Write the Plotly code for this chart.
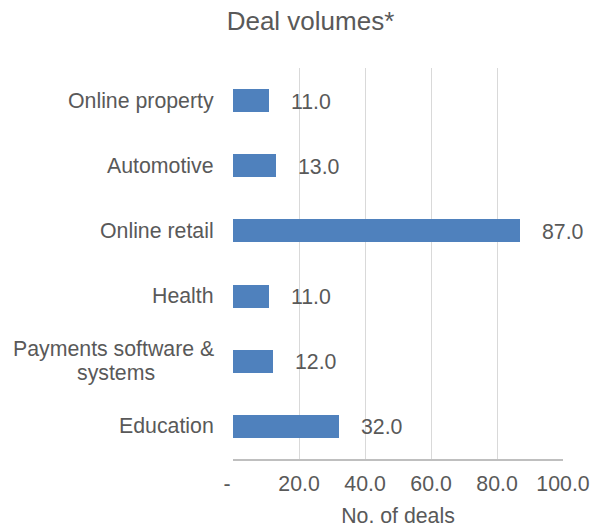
import plotly.graph_objects as go

# Sectors, top to bottom as shown
sectors = [
    "Online property",
    "Automotive",
    "Online retail",
    "Health",
    "Payments software &<br>systems",
    "Education",
]
deals = [11, 13, 87, 11, 12, 32]

x_ticks = [0, 20, 40, 60, 80, 100]
x_tick_text = ["-\u00a0\u00a0", "20.0", "40.0", "60.0", "80.0", "100.0"]

FONT = "Arial, Liberation Sans, sans-serif"
TEXT = "#595959"
BAR = "#4F81BD"
SIZE = 21.3
LINE_GAP = 24  # px between wrapped lines of a category label

fig = go.Figure()
fig.add_trace(
    go.Bar(
        x=deals,
        y=sectors,
        orientation="h",
        width=0.354,
        marker=dict(color=BAR, line=dict(width=0)),
        hoverinfo="x+y",
    )
)

annotations = []
# Value labels just beyond each bar end
for s, v in zip(sectors, deals):
    annotations.append(
        dict(
            x=v, y=s, xref="x", yref="y",
            text=f"{v:.1f}",
            showarrow=False,
            xanchor="left", yanchor="middle",
            xshift=20, yshift=-1,
            font=dict(family=FONT, size=SIZE, color=TEXT),
        )
    )

# Category labels; wrapped ones are set line by line, centred on the widest line
for s in sectors:
    lines = s.split("<br>")
    n = len(lines)
    if n == 1:
        annotations.append(
            dict(
                x=0, y=s, xref="paper", yref="y",
                text=s, showarrow=False,
                xanchor="right", yanchor="middle",
                xshift=-17,
                font=dict(family=FONT, size=SIZE, color=TEXT),
            )
        )
    else:
        # right edge of the block stays fixed; following lines are centred under the first
        annotations.append(
            dict(
                x=0, y=s, xref="paper", yref="y",
                text=lines[0], showarrow=False,
                xanchor="right", yanchor="middle",
                xshift=-17, yshift=LINE_GAP * (n - 1) / 2,
                font=dict(family=FONT, size=SIZE, color=TEXT),
            )
        )
        for i, ln in enumerate(lines[1:], start=1):
            annotations.append(
                dict(
                    x=0, y=s, xref="paper", yref="y",
                    text=ln, showarrow=False,
                    xanchor="center", yanchor="middle",
                    xshift=-17 - 100, yshift=LINE_GAP * ((n - 1) / 2 - i),
                    font=dict(family=FONT, size=SIZE, color=TEXT),
                )
            )

fig.update_layout(
    width=592,
    height=528,
    paper_bgcolor="white",
    plot_bgcolor="white",
    margin=dict(l=233, r=29, t=68, b=69, autoexpand=False),
    showlegend=False,
    bargap=0.0,
    title=dict(
        text="Deal volumes*",
        font=dict(family=FONT, size=26, color=TEXT),
        xref="container", yref="container",
        x=0.5245, y=1 - 21 / 528,
        xanchor="center", yanchor="middle",
    ),
    xaxis=dict(
        range=[0, 100],
        tickvals=x_ticks,
        ticktext=x_tick_text,
        showgrid=True,
        gridcolor="#d9d9d9",
        gridwidth=1,
        zeroline=False,
        showline=True,
        linecolor="#bfbfbf",
        linewidth=1.5,
        ticks="",
        ticklabelstandoff=5,
        automargin=False,
        tickfont=dict(family=FONT, size=SIZE, color=TEXT),
        title=dict(
            text="No. of deals",
            font=dict(family=FONT, size=SIZE, color=TEXT),
            standoff=21,
        ),
        fixedrange=True,
    ),
    yaxis=dict(
        categoryorder="array",
        categoryarray=sectors[::-1],
        showticklabels=False,
        showgrid=False,
        zeroline=False,
        showline=False,
        ticks="",
        automargin=False,
        fixedrange=True,
    ),
    annotations=annotations,
)

fig.write_html("out.html")
